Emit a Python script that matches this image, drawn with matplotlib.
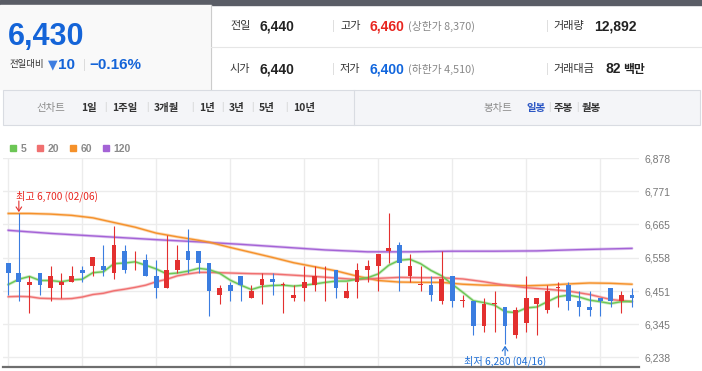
import numpy as np
import matplotlib.pyplot as plt
from matplotlib.patches import Rectangle, Patch

plt.rcParams['font.family'] = ['Noto Sans CJK KR', 'DejaVu Sans']
NUM = ['Liberation Sans', 'Noto Sans CJK KR']

RED = '#e3302f'
BLUE = '#3b7de0'

# ---- daily candles, 60 sessions ----
opens = [6540, 6510, 6470, 6510, 6460, 6470, 6480, 6520, 6530, 6530,
         6510, 6580, 6530, 6550, 6500, 6460, 6520, 6580, 6580, 6540,
         6440, 6470, 6500, 6430, 6470, 6490, 6470, 6430, 6460, 6470,
         6530, 6520, 6430, 6480, 6520, 6530, 6580, 6600, 6500, 6470,
         6470, 6420, 6500, 6420, 6420, 6340, 6410, 6400, 6310, 6350,
         6410, 6390, 6460, 6470, 6420, 6400, 6430, 6460, 6420, 6440]
highs = [6540, 6700, 6500, 6510, 6530, 6510, 6530, 6530, 6560, 6600,
         6660, 6600, 6580, 6570, 6550, 6630, 6600, 6650, 6580, 6540,
         6470, 6480, 6500, 6470, 6510, 6510, 6480, 6470, 6530, 6530,
         6530, 6520, 6480, 6540, 6550, 6570, 6700, 6610, 6570, 6530,
         6500, 6580, 6500, 6440, 6420, 6430, 6450, 6400, 6400, 6500,
         6430, 6470, 6480, 6480, 6450, 6450, 6430, 6460, 6450, 6460]
lows = [6440, 6420, 6380, 6440, 6420, 6430, 6480, 6480, 6500, 6500,
        6490, 6510, 6520, 6500, 6430, 6460, 6510, 6510, 6510, 6370,
        6410, 6420, 6420, 6430, 6410, 6440, 6380, 6420, 6420, 6450,
        6420, 6430, 6430, 6430, 6480, 6450, 6540, 6450, 6480, 6450,
        6420, 6410, 6400, 6400, 6310, 6320, 6320, 6280, 6300, 6320,
        6310, 6380, 6400, 6390, 6370, 6370, 6370, 6400, 6380, 6400]
closes = [6510, 6480, 6480, 6470, 6500, 6480, 6500, 6510, 6560, 6520,
          6600, 6520, 6530, 6500, 6460, 6520, 6550, 6550, 6540, 6450,
          6460, 6450, 6470, 6450, 6490, 6480, 6470, 6440, 6480, 6500,
          6530, 6460, 6450, 6520, 6530, 6570, 6590, 6540, 6530, 6470,
          6440, 6490, 6420, 6420, 6340, 6410, 6410, 6340, 6390, 6430,
          6430, 6450, 6460, 6420, 6400, 6390, 6420, 6420, 6440, 6430]

# moving averages
ma5 = [6472, 6489, 6498, 6485, 6485, 6481, 6487, 6489, 6510, 6513,
       6539, 6541, 6545, 6534, 6522, 6506, 6509, 6515, 6524, 6520,
       6508, 6486, 6470, 6456, 6466, 6469, 6470, 6467, 6470, 6474,
       6479, 6483, 6483, 6489, 6494, 6506, 6534, 6550, 6553, 6539,
       6517, 6500, 6473, 6447, 6420, 6414, 6406, 6385, 6382, 6397,
       6400, 6417, 6433, 6438, 6432, 6422, 6417, 6411, 6417, 6418]
ma20_x = [0, 1, 2, 3, 4, 5, 6, 7, 8, 9, 10, 11, 12, 13, 14, 15, 16, 17, 18, 19,
          21, 23, 25, 27, 29, 31, 33, 35, 37, 39, 41, 42, 43, 45, 47, 49, 51, 53, 55, 57, 59]
ma20 = [6433, 6434, 6433, 6428, 6427, 6426, 6427, 6432, 6440, 6444,
        6452, 6457, 6463, 6470, 6481, 6489, 6500, 6506, 6511, 6511,
        6509, 6507, 6506, 6502, 6498, 6493, 6488, 6492, 6495, 6494,
        6494, 6492, 6490, 6481, 6470, 6462, 6457, 6451, 6440, 6424, 6417]
ma60_x = [0, 2, 4, 6, 8, 10, 12, 14, 16, 18, 19, 21, 23, 25, 27, 29, 31, 33,
          35, 37, 39, 41, 43, 45, 47, 49, 51, 53, 55, 57, 59]
ma60 = [6700, 6700, 6698, 6694, 6686, 6671, 6656, 6637, 6625, 6614, 6608,
        6591, 6575, 6559, 6542, 6529, 6516, 6499, 6485, 6480, 6479,
        6479, 6473, 6470, 6470, 6468, 6470, 6474, 6477, 6476, 6473]
ma120_x = [0, 4, 7, 11, 14, 18, 22, 26, 30, 34, 38, 42, 46, 50, 54, 59]
ma120 = [6646, 6636, 6630, 6622, 6616, 6609, 6601, 6592, 6583, 6577,
         6577, 6579, 6579, 6580, 6584, 6588]

ma_labels = ['5', '20', '60', '120']
ma_colors = ['#6cc655', '#f07070', '#f5912a', '#a463d6']

yticks = [6238, 6345, 6451, 6558, 6665, 6771, 6878]
hi_date, lo_date = '02/06', '04/16'

# header values
price, change, change_pct = '6,430', '10', '−0.16%'
row1 = [('전일', '6,440', '#222222', ''), ('고가', '6,460', '#e8251f', '(상한가 8,370)'),
        ('거래량', '12,892', '#222222', '')]
row2 = [('시가', '6,440', '#222222', ''), ('저가', '6,400', '#1166dd', '(하한가 4,510)'),
        ('거래대금', '82', '#222222', '백만')]
line_tabs = ['1일', '1주일', '3개월', '1년', '3년', '5년', '10년']
candle_tabs = ['일봉', '주봉', '월봉']

W, H = 702, 371
fig = plt.figure(figsize=(W / 100, H / 100), dpi=100)

# ---------------- chart ----------------
ax = fig.add_axes([3 / W, 4 / H, 636 / W, 209 / H])
o, h, l, c = map(np.array, (opens, highs, lows, closes))
x = np.arange(len(c))
col = np.where(c >= o, RED, BLUE)
ax.vlines(x, l, h, colors=col, lw=0.8, zorder=3)
ax.bar(x, np.maximum(np.abs(c - o), 3), bottom=np.minimum(o, c), width=0.45,
       color=col, zorder=4)

for xs, ys, cl in [(ma120_x, ma120, ma_colors[3]), (ma60_x, ma60, ma_colors[2]),
                   (ma20_x, ma20, ma_colors[1]), (x, ma5, ma_colors[0])]:
    ax.plot(xs, ys, color=cl, lw=2.2, alpha=0.35, zorder=2, solid_capstyle='round')
    ax.plot(xs, ys, color=cl, lw=1.0, zorder=2)

ax.set_xlim(-0.5, 59.67)
ax.set_ylim(6207.5, 6878)
ax.set_xticks(range(0, 60, 7))
ax.set_yticks(yticks)
ax.set_yticklabels([f'{v:,}' for v in yticks], family=NUM, fontsize=7.5, color='#777777')
ax.yaxis.tick_right()
ax.tick_params(axis='y', length=0, pad=4)
ax.tick_params(axis='x', length=0, labelbottom=False)
ax.grid(True, color='#ececec', lw=1)
ax.set_axisbelow(True)
for s in ['top', 'left', 'right']:
    ax.spines[s].set_visible(False)
ax.spines['bottom'].set_color('#6e6e6e')
ax.spines['bottom'].set_linewidth(1.6)

# highest / lowest marks
hi_i, lo_i = int(np.argmax(h)), int(np.argmin(l))
ax.annotate('', xy=(hi_i, h[hi_i]), xytext=(0, 9), textcoords='offset points',
            arrowprops=dict(arrowstyle='->,head_length=0.3,head_width=0.2', color=RED,
                            lw=0.8, shrinkA=0, shrinkB=1))
ax.annotate(f'최고 {h[hi_i]:,} ({hi_date})', xy=(hi_i, h[hi_i]), xytext=(-2, 12.6),
            textcoords='offset points', ha='left', va='center', fontsize=7.3, color='#e8251f')
ax.annotate('', xy=(lo_i, l[lo_i]), xytext=(0, -8), textcoords='offset points',
            arrowprops=dict(arrowstyle='->,head_length=0.3,head_width=0.2', color='#1f6fd6',
                            lw=0.8, shrinkA=0, shrinkB=1))
ax.annotate(f'최저 {l[lo_i]:,} ({lo_date})', xy=(lo_i, l[lo_i]), xytext=(0, -12.3),
            textcoords='offset points', ha='center', va='center', fontsize=7.3, color='#1f6fd6')

handles = [Patch(color=cl, label=lb) for cl, lb in zip(ma_colors, ma_labels)]
leg = ax.legend(handles=handles, loc='lower left', bbox_to_anchor=(7 / 636, 1.02), ncol=4,
                frameon=False, borderpad=0, borderaxespad=0, handlelength=0.6,
                handleheight=0.6, handletextpad=0.45, columnspacing=1.0,
                prop=dict(family=NUM, size=7.5, weight='bold'))
for t in leg.get_texts():
    t.set_color('#8a8a8a')

# ---------------- header ----------------
hd = fig.add_axes([0, 0, 1, 1])
hd.set_xlim(0, W)
hd.set_ylim(H, 0)
hd.axis('off')

hd.add_patch(Rectangle((0, 0), W, 4.5, color='#5a5d66'))
hd.add_patch(Rectangle((0, 4.5), 211, 84, color='#f9f9f9'))
hd.plot([211, 211], [4.5, 89], color='#cccccc', lw=0.8)
hd.plot([211, W], [47, 47], color='#e6e6e6', lw=0.8)

hd.text(8, 37, price, family=NUM, fontsize=22, weight='bold', color='#1464d8', va='center')
hd.text(9, 65, '전일대비', fontsize=6.8, color='#333333', va='center')
hd.text(48, 65, '▼', family='DejaVu Sans', fontsize=9, color='#3d7de0', va='center')
hd.text(58, 65, change, family=NUM, fontsize=11, weight='bold', color='#1464d8', va='center')
hd.text(83, 65, '|', fontsize=7, color='#cccccc', va='center')
hd.text(89, 65, change_pct, family=NUM, fontsize=11, weight='bold', color='#1464d8', va='center')

cols_x = [(230, 260), (340, 370), (553, 594)]
for y, row in [(26.5, row1), (69, row2)]:
    for (lx, vx), (lab, val, vc, extra) in zip(cols_x, row):
        hd.text(lx, y, lab, fontsize=8, color='#333333', va='center')
        if lab == '거래대금':
            vx = 605
        t = hd.text(vx, y, val, family=NUM, fontsize=10, weight='bold', color=vc, va='center')
        if extra == '백만':
            hd.text(623, y, extra, fontsize=8.5, weight='bold', color='#222222', va='center')
        elif extra:
            hd.text(408, y, extra, fontsize=7.8, color='#888888', va='center')
    for sx in (333, 547):
        hd.text(sx, y, '|', fontsize=7, color='#cccccc', va='center', ha='center')

# toolbar
hd.add_patch(Rectangle((3, 90), 697, 35, facecolor='#f4f5f8', edgecolor='#d9dce2', lw=0.8))
hd.plot([354, 354], [90, 125], color='#d9dce2', lw=0.8)
ty = 107.5
hd.text(36, ty, '선차트', fontsize=7.5, color='#8a8a8a', va='center')
tab_x = [81, 112, 154, 199, 229, 259, 293]
for i, (tx, lab) in enumerate(zip(tab_x, line_tabs)):
    hd.text(tx, ty, lab, fontsize=7.5, weight='bold', color='#333333', va='center')
    if i < len(line_tabs) - 1:
        hd.text(tab_x[i + 1] - 7, ty, '|', fontsize=6.5, color='#cccccc', va='center', ha='center')
hd.text(483, ty, '봉차트', fontsize=7.5, color='#8a8a8a', va='center')
ctab_x = [526, 554, 582]
for i, (tx, lab) in enumerate(zip(ctab_x, candle_tabs)):
    hd.text(tx, ty, lab, fontsize=7.5, weight='bold',
            color='#2b56c4' if i == 0 else '#333333', va='center')
    if i < len(candle_tabs) - 1:
        hd.text(ctab_x[i + 1] - 5, ty, '|', fontsize=6.5, color='#cccccc', va='center', ha='center')

fig.savefig('out.png', dpi=100)
